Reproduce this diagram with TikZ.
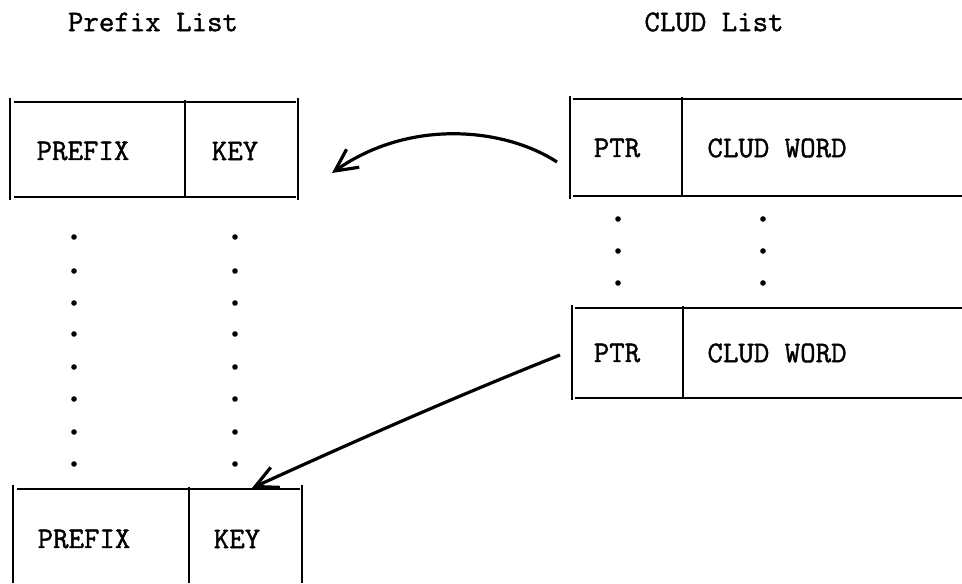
\documentclass[tikz,border=0pt]{standalone}
\usepackage{fontspec}
\newfontfamily\twfont{Latin Modern Mono}[FakeBold=1.3]
\usetikzlibrary{arrows.meta}
\begin{document}
\begin{tikzpicture}[x=0.5pt,y=-0.5pt,
  txt/.style={inner sep=0pt,font=\twfont\fontsize{15}{18}\selectfont},
  boxline/.style={line width=1pt,line cap=butt},
  dotmark/.style={fill=black,draw=none},
  ptrarrow/.style={line width=1.6pt,-{Straight Barb[length=11pt,width=11pt,line width=1.6pt]}}]
\useasboundingbox (0,0) rectangle (962,583);

% headings
\node[txt] (hpre) at (153,22) {Prefix List};
\node[txt] (hclud) at (714,22) {CLUD List};

% top prefix box
\draw[boxline] (14,102) -- (296,102);
\draw[boxline] (14,197) -- (296,197);
\draw[boxline] (10,98) -- (10,200);
\draw[boxline] (185,100) -- (185,198);
\draw[boxline] (298,98) -- (298,200);
\node[txt] (pre1) at (83,151) {PREFIX};
\node[txt] (key1) at (235,151) {KEY};

% bottom prefix box
\draw[boxline] (17,489) -- (300,489);
\draw[boxline] (13,485) -- (13,583);
\draw[boxline] (189,487) -- (189,583);
\draw[boxline] (302,485) -- (302,583);
\node[txt] (pre2) at (84,539) {PREFIX};
\node[txt] (key2) at (237,539) {KEY};

% top CLUD box
\draw[boxline] (573,99) -- (962,99);
\draw[boxline] (573,196) -- (962,196);
\draw[boxline] (570,96) -- (570,199);
\draw[boxline] (682,97) -- (682,197);
\node[txt] (ptr1) at (617,148) {PTR};
\node[txt] (cw1) at (777,148) {CLUD WORD};

% second CLUD box
\draw[boxline] (575,308) -- (962,308);
\draw[boxline] (575,398) -- (962,398);
\draw[boxline] (572,305) -- (572,400);
\draw[boxline] (683,306) -- (683,398);
\node[txt] (ptr2) at (617,353) {PTR};
\node[txt] (cw2) at (777,353) {CLUD WORD};

% dots, prefix list
\foreach \yy in {237,271,303,334,367,399,432,464} {
  \fill[dotmark] (74,\yy) circle (1.4pt);
  \fill[dotmark] (235,\yy) circle (1.4pt);
}
% dots, CLUD list
\foreach \yy in {219,251,283} {
  \fill[dotmark] (618,\yy) circle (1.4pt);
  \fill[dotmark] (763,\yy) circle (1.4pt);
}

% arrows
\coordinate (a1s) at (557,162);
\coordinate (a1e) at (332,173);
\coordinate (a2s) at (560,355);
\coordinate (a2e) at (252,488);
\draw[ptrarrow] (a1s) .. controls (505,128) and (410,118) .. (a1e);
\draw[ptrarrow] (a2s) .. controls (457,396) and (355,441) .. (a2e);
\end{tikzpicture}
\end{document}
